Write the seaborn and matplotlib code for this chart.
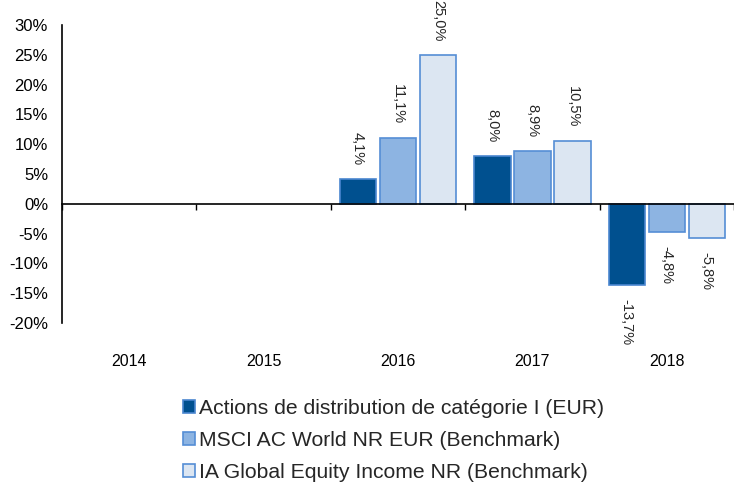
import pandas as pd
import matplotlib
matplotlib.use("Agg")
import matplotlib.pyplot as plt
from matplotlib.patches import Patch
import seaborn as sns

# chart data
years = ["2014", "2015", "2016", "2017", "2018"]
series = [
    "Actions de distribution de catégorie I (EUR)",
    "MSCI AC World NR EUR (Benchmark)",
    "IA Global Equity Income NR (Benchmark)",
]
fund = [None, None, 4.1, 8.0, -13.7]
msci = [None, None, 11.1, 8.9, -4.8]
ia_income = [None, None, 25.0, 10.5, -5.8]

rows = []
for name, vals in zip(series, [fund, msci, ia_income]):
    for y, v in zip(years, vals):
        if v is not None:
            rows.append({"year": y, "series": name, "value": v})
df = pd.DataFrame(rows)

fills = {series[0]: "#00508F", series[1]: "#8DB4E2", series[2]: "#DCE6F2"}
edges = {series[0]: "#4A86CF", series[1]: "#558ED5", series[2]: "#558ED5"}

sns.set_theme(style="white")
plt.rcParams["font.family"] = ["Liberation Sans", "DejaVu Sans"]

fig = plt.figure(figsize=(7.34, 4.83), dpi=100)
ax = fig.add_axes([62 / 734, 1 - 323 / 483, 672 / 734, 298 / 483])

sns.barplot(data=df, x="year", y="value", hue="series", order=years,
            hue_order=series, palette=fills, saturation=1, width=0.893,
            gap=0.09, legend=False, ax=ax)

for cont, name in zip(ax.containers, series):
    for bar in cont:
        bar.set_edgecolor(edges[name])
        bar.set_linewidth(1.2)
    labels = [f"{v:.1f}".replace(".", ",") + "%" for v in cont.datavalues]
    ax.bar_label(cont, labels=labels, rotation=-90, padding=10, fontsize=10.5)

ax.set_xlim(-0.5, 4.5)
ax.set_ylim(-20, 30)
ax.set_yticks(range(-20, 31, 5))
ax.set_yticklabels([f"{v}%" for v in range(-20, 31, 5)])
ax.set_xlabel("")
ax.set_ylabel("")

ax.spines["top"].set_visible(False)
ax.spines["right"].set_visible(False)
ax.spines["bottom"].set_position(("data", 0))
for s in ["left", "bottom"]:
    ax.spines[s].set_color("black")
    ax.spines[s].set_linewidth(1.2)

ax.set_xticks([i - 0.5 for i in range(6)], minor=True)
ax.tick_params(axis="x", which="minor", bottom=True, length=4, width=1,
               direction="out", color="black")
ax.tick_params(axis="x", which="major", length=0, pad=108, labelsize=11.5,
               labelcolor="black")
ax.tick_params(axis="y", length=0, pad=10, labelsize=12, labelcolor="black")

handles = [Patch(facecolor=fills[n], edgecolor=edges[n], linewidth=1.2)
           for n in series]
fig.legend(handles, series, loc="upper left",
           bbox_to_anchor=(183 / 734, 1 - 399 / 483), frameon=False,
           fontsize=15.2, handlelength=0.58, handleheight=0.58,
           handletextpad=0.17, labelspacing=0.62, borderpad=0,
           borderaxespad=0)

fig.savefig("out.png", dpi=100)
